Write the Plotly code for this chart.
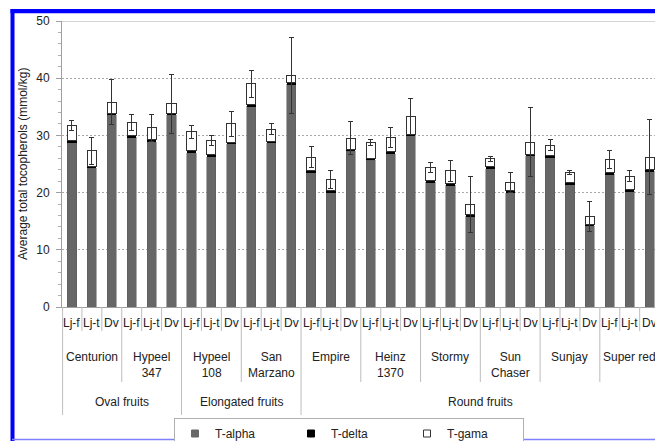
import plotly.graph_objects as go

cultivars = ["Centurion", "Hypeel 347", "Hypeel 108", "San Marzano", "Empire",
             "Heinz 1370", "Stormy", "Sun Chaser", "Sunjay", "Super red"]
cultivar_labels = ["Centurion", "Hypeel<br>347", "Hypeel<br>108", "San<br>Marzano", "Empire",
                   "Heinz<br>1370", "Stormy", "Sun<br>Chaser", "Sunjay", "Super red"]
methods = ["Lj-f", "Lj-t", "Dv"]
groups = ["Oval fruits", "Elongated fruits", "Round fruits"]
group_cultivar_counts = [2, 2, 6]

t_alpha = [28.8, 24.3, 33.6, 29.7, 28.9, 33.6, 27.0, 26.3, 28.5, 35.1,
           28.7, 38.9, 23.5, 20.0, 27.2, 25.7, 26.8, 29.9, 21.8, 21.3,
           15.9, 24.2, 20.0, 26.4, 26.2, 21.4, 14.2, 23.2, 20.2, 23.7]
t_delta = [0.3, 0.3, 0.3, 0.3, 0.3, 0.3, 0.3, 0.3, 0.3, 0.3,
           0.3, 0.3, 0.3, 0.3, 0.4, 0.3, 0.3, 0.3, 0.3, 0.3,
           0.3, 0.3, 0.3, 0.3, 0.3, 0.3, 0.3, 0.3, 0.3, 0.3]
t_gama = [2.6, 2.7, 1.9, 2.2, 2.1, 1.6, 3.3, 2.5, 3.2, 3.6,
          2.1, 1.3, 2.4, 2.0, 1.9, 2.7, 2.5, 3.1, 2.3, 2.2,
          1.7, 1.4, 1.5, 2.1, 1.8, 1.8, 1.3, 2.3, 2.4, 2.2]
total_err = [0.9, 2.4, 3.9, 1.4, 2.3, 5.2, 1.1, 0.9, 2.2, 2.3,
             0.9, 6.7, 1.8, 1.5, 2.9, 0.5, 1.8, 3.1, 0.8, 1.8,
             4.9, 0.4, 1.8, 6.0, 0.9, 0.3, 2.6, 1.6, 1.0, 6.5]

x_cats = [f"{c} {m}" for c in cultivars for m in methods]

FONT = "Liberation Sans, Arial, sans-serif"
TXT = "#222222"

# plot-area geometry (pixels) for converting decoration positions
L, R_EDGE, T, B_AXIS, H = 62, 655, 21, 307, 441
PH = B_AXIS - T
PW = R_EDGE - L


def py(Y):
    return (B_AXIS - Y) / PH


def px(X):
    return (X - L) / PW


fig = go.Figure()
fig.add_trace(go.Bar(x=x_cats, y=t_alpha, name="T-alpha", showlegend=False,
                     marker=dict(color="#676767", line=dict(color="#5a5a5a", width=0.5))))
fig.add_trace(go.Bar(x=x_cats, y=t_delta, name="T-delta", showlegend=False,
                     marker=dict(color="#000000", line=dict(width=0))))
fig.add_trace(go.Bar(x=x_cats, y=t_gama, name="T-gama", showlegend=False,
                     marker=dict(color="#ffffff", line=dict(color="#333333", width=1)),
                     error_y=dict(type="data", array=total_err, visible=True,
                                  color="#333333", thickness=1, width=2.5)))

# legend entries
for nm, col, lc in [("T-alpha", "#676767", "#676767"),
                    ("T-delta", "#000000", "#000000"),
                    ("T-gama", "#ffffff", "#333333")]:
    fig.add_trace(go.Scatter(x=[None], y=[None], mode="markers", name=nm,
                             marker=dict(symbol="square", size=7, color=col,
                                         line=dict(color=lc, width=1))))

shapes = []
annotations = []

# category separators below the axis
n = len(x_cats)
group_starts = []
acc = 0
for cnt in group_cultivar_counts:
    group_starts.append(acc * 3)
    acc += cnt
for k in range(n):
    xk = k - 0.5 if k > 0 else -0.47
    if k in group_starts:
        y1 = 415
    elif k % 3 == 0:
        y1 = 382
    else:
        y1 = 331
    shapes.append(dict(type="line", xref="x", yref="paper", x0=xk, x1=xk,
                       y0=py(B_AXIS), y1=py(y1), line=dict(color="#bdbdbd", width=1)))

# first-level labels
for i, cat in enumerate(x_cats):
    annotations.append(dict(x=i, y=py(323), xref="x", yref="paper", text=methods[i % 3],
                            showarrow=False, font=dict(size=12, color=TXT, family=FONT),
                            xanchor="center", yanchor="middle"))
# cultivar labels
for j, lab in enumerate(cultivar_labels):
    annotations.append(dict(x=3 * j + 1, y=py(348), xref="x", yref="paper", text=lab,
                            showarrow=False, font=dict(size=12, color=TXT, family=FONT),
                            xanchor="center", yanchor="top"))
# group labels
acc = 0
for g, cnt in zip(groups, group_cultivar_counts):
    center = (acc * 3 + (acc + cnt) * 3 - 1) / 2
    annotations.append(dict(x=center, y=py(402), xref="x", yref="paper", text=g,
                            showarrow=False, font=dict(size=12, color=TXT, family=FONT),
                            xanchor="center", yanchor="middle"))
    acc += cnt

# y-axis title
annotations.append(dict(x=px(23), y=py(164), xref="paper", yref="paper",
                        text="Average total tocopherols (mmol/kg)", textangle=-90,
                        showarrow=False, font=dict(size=12, color=TXT, family=FONT),
                        xanchor="center", yanchor="middle"))

# top border line at 50
shapes.append(dict(type="line", xref="paper", yref="y", x0=0, x1=1, y0=50, y1=50,
                   line=dict(color="#d4d4d4", width=2)))

# blue frame
shapes.append(dict(type="rect", xref="paper", yref="paper", x0=px(10.5), x1=px(14.5),
                   y0=py(445), y1=py(9), fillcolor="#0000ff", line=dict(width=0), layer="above"))
shapes.append(dict(type="rect", xref="paper", yref="paper", x0=px(10.5), x1=px(665),
                   y0=py(13.3), y1=py(9), fillcolor="#0000ff", line=dict(width=0), layer="above"))
shapes.append(dict(type="line", xref="paper", yref="paper", x0=px(12), x1=px(665),
                   y0=py(439.5), y1=py(439.5), line=dict(color="#7f7fff", width=1.5)))

fig.update_layout(
    width=655, height=441,
    margin=dict(l=L, r=0, t=T, b=H - B_AXIS, pad=0, autoexpand=False),
    paper_bgcolor="white", plot_bgcolor="white",
    barmode="stack", bargap=0.54,
    font=dict(family=FONT, size=12, color=TXT),
    shapes=shapes, annotations=annotations,
    legend=dict(orientation="h", traceorder="normal",
                x=px(174), xanchor="left", y=py(418), yanchor="top",
                bordercolor="#b0b0b0", borderwidth=1, bgcolor="white",
                entrywidth=71, entrywidthmode="pixels",
                font=dict(size=12, color=TXT, family=FONT)),
    xaxis=dict(type="category", categoryorder="array", categoryarray=x_cats,
               range=[-0.5, -0.5 + PW / 19.92], showticklabels=False, ticks="",
               showline=True, linecolor="#a0a0a0", linewidth=1, showgrid=False,
               fixedrange=True, automargin=False),
    yaxis=dict(range=[0, 50], dtick=10, showline=True, linecolor="#a0a0a0", linewidth=1,
               ticks="outside", ticklen=5, tickcolor="#a0a0a0", ticklabelstandoff=4,
               minor=dict(dtick=2, ticks="outside", ticklen=3, tickcolor="#b0b0b0"),
               showgrid=True, gridcolor="#a8a8a8", gridwidth=1, griddash="2px,2px",
               zeroline=False, tickfont=dict(size=12, color=TXT, family=FONT),
               fixedrange=True, automargin=False),
)

fig.write_html("out.html", config={"displayModeBar": False},
               post_script="document.body.style.margin='0';document.body.style.overflow='hidden';")
